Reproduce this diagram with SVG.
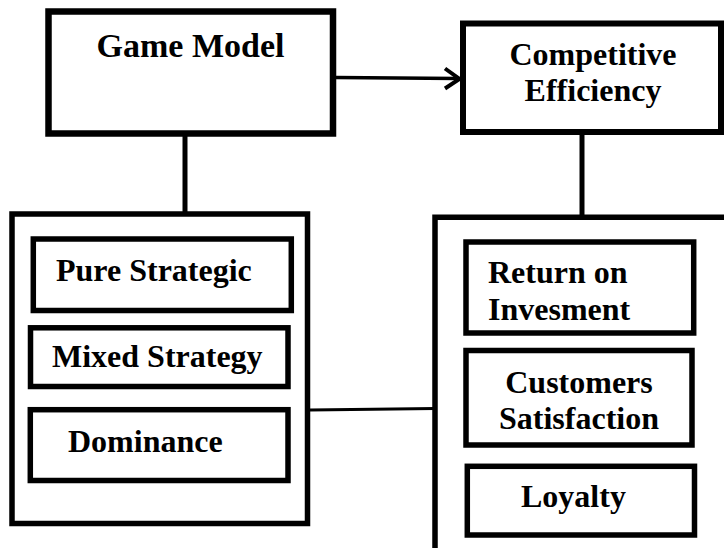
<svg xmlns="http://www.w3.org/2000/svg" width="724" height="548" viewBox="0 0 724 548">
  <style>
    .box { fill: #fff; stroke: #000; stroke-width: 5.5; }
    .heavy { stroke-width: 6.5; }
    .mid { text-anchor: middle; }
    .wire { fill: none; stroke: #000; }
  </style>
  <defs>
    <clipPath id="mixedClip">
      <rect x="30" y="330" width="260" height="44"/>
    </clipPath>
  </defs>
  <rect width="724" height="548" fill="#fff"/>

  <!-- connectors -->
  <g id="connectors">
    <line class="wire" x1="185" y1="136" x2="185" y2="212" stroke-width="5"/>
    <line class="wire" x1="582" y1="131" x2="582" y2="216" stroke-width="5"/>
    <line class="wire" x1="336" y1="77.5" x2="458" y2="78.5" stroke-width="3.5"/>
    <polyline class="wire" points="445,68.5 459.5,79 445,88.5" stroke-width="4" stroke-linejoin="miter"/>
    <line class="wire" x1="310" y1="410" x2="435" y2="408.5" stroke-width="3"/>
  </g>

  <g font-family="Liberation Serif, Times New Roman, serif" font-weight="bold" font-size="32" fill="#000">
    <!-- top level nodes -->
    <g id="game-model">
      <rect class="box heavy" x="48.5" y="11.5" width="284.5" height="122"/>
      <text class="mid" x="190.5" y="57" font-size="34">Game Model</text>
    </g>
    <g id="competitive-efficiency">
      <rect class="box" x="463" y="23.5" width="258" height="108.5" style="stroke-width:6"/>
      <text class="mid" x="593" y="65">Competitive</text>
      <text class="mid" x="593" y="101">Efficiency</text>
    </g>

    <!-- left group: game strategies -->
    <g id="strategies">
      <rect class="box" x="12" y="214" width="295.5" height="309.5"/>
    </g>
    <g id="pure-strategic">
      <rect class="box" x="33.3" y="239" width="258" height="71.5"/>
      <text x="56" y="281">Pure Strategic</text>
    </g>
    <g id="mixed-strategy">
      <rect class="box" x="30.5" y="327.8" width="257.5" height="58.7"/>
      <text x="52" y="367" clip-path="url(#mixedClip)">Mixed Strategy</text>
    </g>
    <g id="dominance">
      <rect class="box" x="30.3" y="409.7" width="257.7" height="70.8"/>
      <text x="68" y="452">Dominance</text>
    </g>

    <!-- right group: efficiency measures (open to the page edge) -->
    <g id="measures">
      <path class="wire" d="M435,552 V217.3 H728" stroke-width="5.5"/>
    </g>
    <g id="return-on-investment">
      <rect class="box" x="466" y="242" width="227.7" height="91"/>
      <text x="488" y="283">Return on</text>
      <text x="488" y="320">Invesment</text>
    </g>
    <g id="customers-satisfaction">
      <rect class="box" x="466" y="350.5" width="226" height="94.5"/>
      <text class="mid" x="579" y="393">Customers</text>
      <text class="mid" x="579" y="429">Satisfaction</text>
    </g>
    <g id="loyalty">
      <rect class="box" x="467.3" y="466.3" width="227.2" height="68.7"/>
      <text x="521" y="507">Loyalty</text>
    </g>
  </g>
</svg>
